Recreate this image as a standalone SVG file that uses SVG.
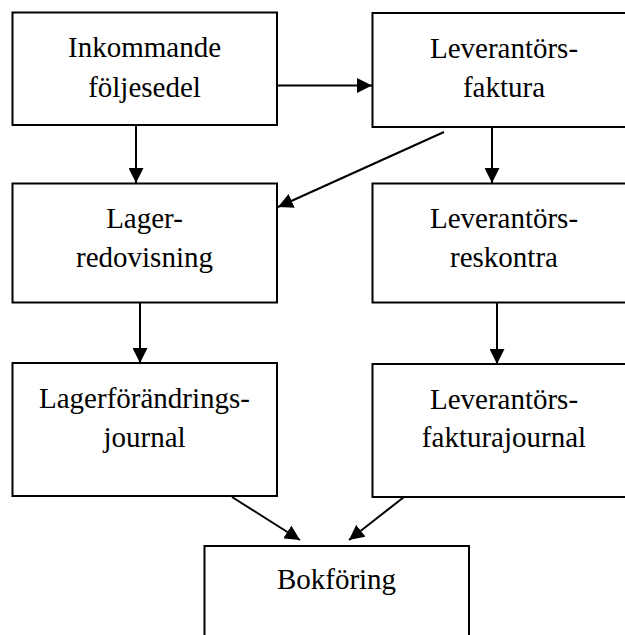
<svg xmlns="http://www.w3.org/2000/svg" width="625" height="635" viewBox="0 0 625 635">
<style>
.box{fill:#fff;stroke:#000;stroke-width:2}
.lbl{font-family:"Liberation Serif","Times New Roman",serif;font-size:29px;fill:#000;text-anchor:middle}
.con{stroke:#000;stroke-width:2;fill:none;marker-end:url(#ah)}
</style>
<defs>
<marker id="ah" viewBox="0 0 15 15" refX="15" refY="7.5" markerWidth="15" markerHeight="15" markerUnits="userSpaceOnUse" orient="auto">
<path d="M0,0 L15,7.5 L0,15 Z" fill="#000"/>
</marker>
</defs>
<rect width="625" height="635" fill="#fff"/>
<g id="n1"><rect class="box" x="12.5" y="12.5" width="264.5" height="112.5"/>
<text class="lbl" x="144.5" y="57">Inkommande</text><text class="lbl" x="144.5" y="97">följesedel</text></g>
<g id="n2"><rect class="box" x="372.5" y="13" width="264" height="114"/>
<text class="lbl" x="504" y="58">Leverantörs-</text><text class="lbl" x="504" y="97">faktura</text></g>
<g id="n3"><rect class="box" x="12.5" y="183.5" width="264.5" height="119"/>
<text class="lbl" x="144.5" y="228">Lager-</text><text class="lbl" x="144.5" y="267">redovisning</text></g>
<g id="n4"><rect class="box" x="372.5" y="183.5" width="264" height="119"/>
<text class="lbl" x="504" y="228">Leverantörs-</text><text class="lbl" x="504" y="267">reskontra</text></g>
<g id="n5"><rect class="box" x="12.5" y="363" width="264.5" height="133"/>
<text class="lbl" x="144.5" y="408">Lagerförändrings-</text><text class="lbl" x="144.5" y="447">journal</text></g>
<g id="n6"><rect class="box" x="372.5" y="364" width="264" height="133"/>
<text class="lbl" x="504" y="409">Leverantörs-</text><text class="lbl" x="504" y="447">fakturajournal</text></g>
<g id="n7"><rect class="box" x="204.5" y="546" width="264.5" height="100"/>
<text class="lbl" x="336.5" y="589">Bokföring</text></g>
<g id="connectors">
<line class="con" x1="277" y1="85.5" x2="372" y2="85.5"/>
<line class="con" x1="136" y1="125" x2="136" y2="183"/>
<line class="con" x1="444" y1="132" x2="278" y2="207"/>
<line class="con" x1="492" y1="127" x2="492" y2="183"/>
<line class="con" x1="140" y1="303" x2="140" y2="363"/>
<line class="con" x1="497" y1="303" x2="497" y2="364"/>
<line class="con" x1="232" y1="497" x2="300" y2="540"/>
<line class="con" x1="404" y1="497" x2="349" y2="540"/>
</g>
</svg>
